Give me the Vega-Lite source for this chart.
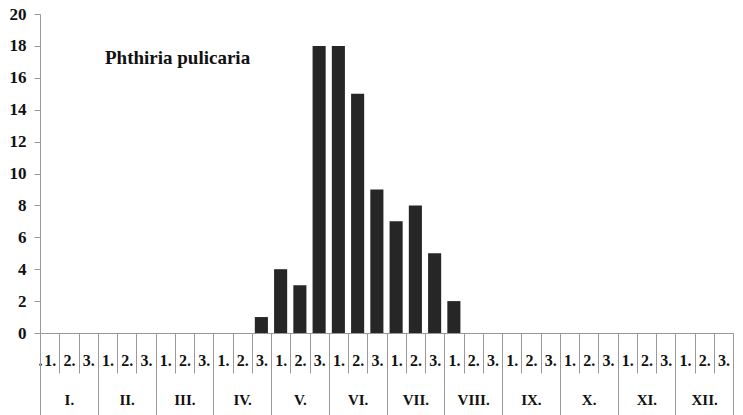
{
  "$schema": "https://vega.github.io/schema/vega-lite/v6.json",
  "autosize": "none",
  "width": 693,
  "height": 319,
  "padding": {"left": 40, "top": 14, "right": 10, "bottom": 82},
  "background": "white",
  "title": {
    "text": "Phthiria pulicaria",
    "anchor": "start",
    "frame": "group",
    "orient": "top",
    "offset": 0,
    "dx": 65,
    "dy": 63,
    "font": "Liberation Serif",
    "fontSize": 19,
    "fontWeight": "bold",
    "color": "#111"
  },
  "config": {
    "view": {"stroke": null},
    "axis": {
      "labelFont": "Liberation Serif",
      "labelFontWeight": "bold",
      "labelColor": "#111",
      "domainColor": "#999",
      "tickColor": "#999",
      "grid": false
    }
  },
  "layer": [
    {
      "data": {
        "values": [
          {"decade": "I.1", "n": 0}, {"decade": "I.2", "n": 0}, {"decade": "I.3", "n": 0},
          {"decade": "II.1", "n": 0}, {"decade": "II.2", "n": 0}, {"decade": "II.3", "n": 0},
          {"decade": "III.1", "n": 0}, {"decade": "III.2", "n": 0}, {"decade": "III.3", "n": 0},
          {"decade": "IV.1", "n": 0}, {"decade": "IV.2", "n": 0}, {"decade": "IV.3", "n": 1},
          {"decade": "V.1", "n": 4}, {"decade": "V.2", "n": 3}, {"decade": "V.3", "n": 18},
          {"decade": "VI.1", "n": 18}, {"decade": "VI.2", "n": 15}, {"decade": "VI.3", "n": 9},
          {"decade": "VII.1", "n": 7}, {"decade": "VII.2", "n": 8}, {"decade": "VII.3", "n": 5},
          {"decade": "VIII.1", "n": 2}, {"decade": "VIII.2", "n": 0}, {"decade": "VIII.3", "n": 0},
          {"decade": "IX.1", "n": 0}, {"decade": "IX.2", "n": 0}, {"decade": "IX.3", "n": 0},
          {"decade": "X.1", "n": 0}, {"decade": "X.2", "n": 0}, {"decade": "X.3", "n": 0},
          {"decade": "XI.1", "n": 0}, {"decade": "XI.2", "n": 0}, {"decade": "XI.3", "n": 0},
          {"decade": "XII.1", "n": 0}, {"decade": "XII.2", "n": 0}, {"decade": "XII.3", "n": 0}
        ]
      },
      "mark": {"type": "bar", "width": {"band": 0.68}, "color": "#262626"},
      "encoding": {
        "x": {
          "field": "decade",
          "type": "nominal",
          "sort": null,
          "scale": {"paddingInner": 0, "paddingOuter": 0},
          "axis": {
            "orient": "bottom",
            "title": null,
            "labelAngle": 0,
            "tickBand": "extent",
            "tickSize": 40,
            "labelPadding": -21,
            "labelFontSize": 16,
            "labelExpr": "substring(datum.label, indexof(datum.label, '.') + 1) + '.'"
          }
        },
        "y": {
          "field": "n",
          "type": "quantitative",
          "scale": {"domain": [0, 20], "nice": false},
          "axis": {
            "title": null,
            "values": [0, 2, 4, 6, 8, 10, 12, 14, 16, 18, 20],
            "tickSize": 6,
            "labelPadding": 8,
            "labelFontSize": 17
          }
        }
      }
    },
    {
      "data": {
        "values": [
          {"month": "I."}, {"month": "II."}, {"month": "III."}, {"month": "IV."},
          {"month": "V."}, {"month": "VI."}, {"month": "VII."}, {"month": "VIII."},
          {"month": "IX."}, {"month": "X."}, {"month": "XI."}, {"month": "XII."}
        ]
      },
      "mark": {"type": "point", "opacity": 0},
      "encoding": {
        "x": {
          "field": "month",
          "type": "nominal",
          "sort": null,
          "scale": {"paddingInner": 0, "paddingOuter": 0},
          "axis": {
            "orient": "bottom",
            "title": null,
            "labelAngle": 0,
            "domain": false,
            "tickBand": "extent",
            "tickSize": 82,
            "labelPadding": -23,
            "labelFontSize": 15
          }
        }
      }
    }
  ],
  "resolve": {"scale": {"x": "independent"}, "axis": {"x": "independent"}}
}
